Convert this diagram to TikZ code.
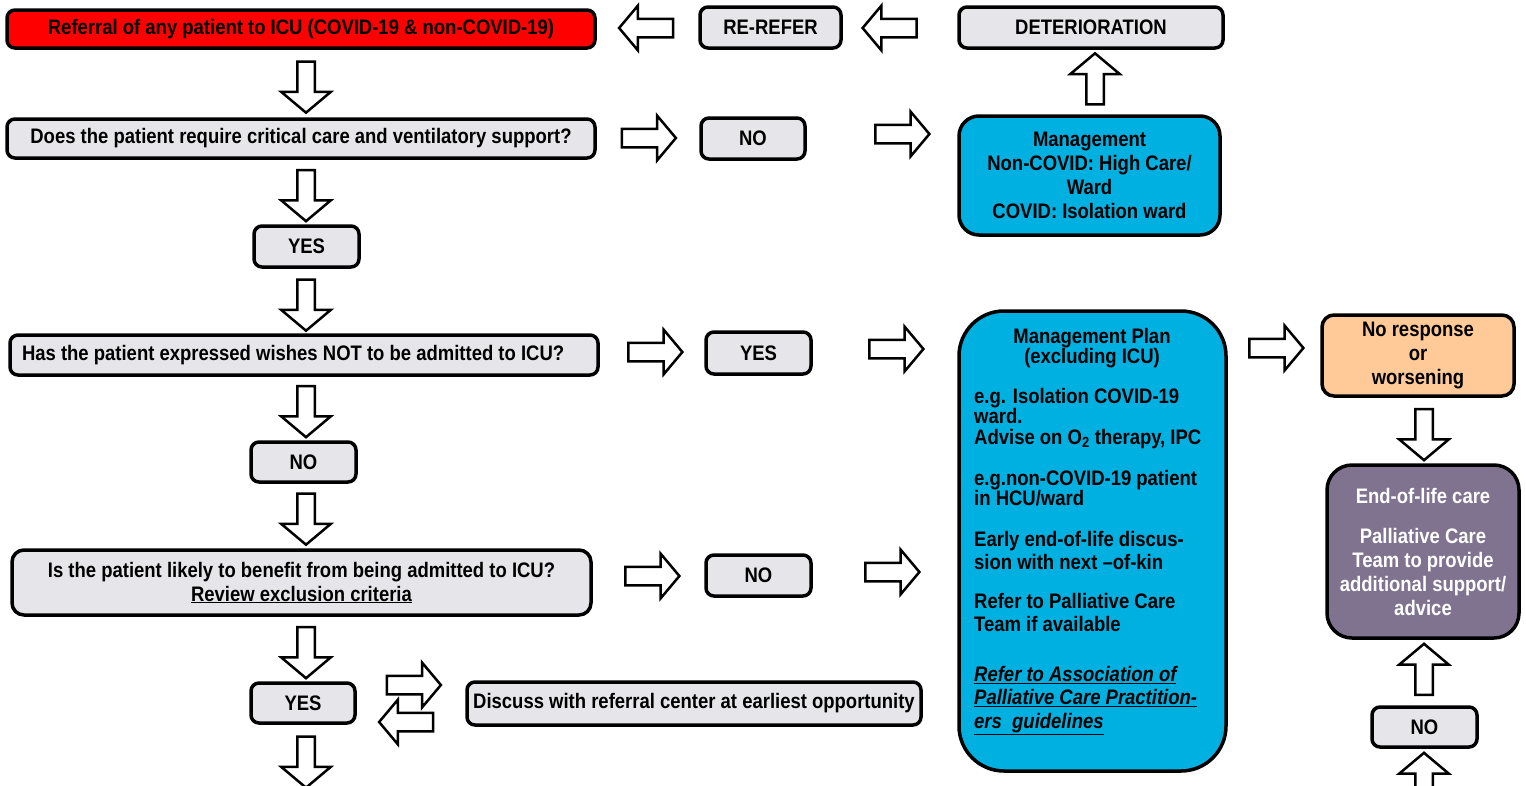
\documentclass[tikz,border=0pt]{standalone}
\usepackage{fontspec}
\setmainfont{Liberation Sans}[FakeStretch=0.88]
\usetikzlibrary{shapes.arrows}

\definecolor{boxgray}{HTML}{E6E5EA}
\definecolor{alertred}{HTML}{FF0000}
\definecolor{mgmtblue}{HTML}{00B0E0}
\definecolor{peach}{HTML}{FFCA97}
\definecolor{mauve}{HTML}{7F7390}

\tikzset{
  box/.style={draw, line width=3.5pt, rounded corners=8pt, fill=boxgray,
    inner sep=0pt, align=center, font=\bfseries\fontsize{21}{24}\selectfont},
  hflow/.style={single arrow, draw, fill=white, line width=2.5pt, inner sep=0pt,
    inner ysep=8pt, minimum height=54pt, single arrow head extend=13pt,
    single arrow tip angle=100},
  vflow/.style={single arrow, draw, fill=white, line width=2.5pt, inner sep=0pt,
    inner ysep=7.5pt, minimum height=51pt, single arrow head extend=16pt,
    single arrow tip angle=100},
}

\begin{document}
\begin{tikzpicture}[x=1pt, y=-1pt]
  \useasboundingbox (0,0) rectangle (1526,785);

  % Left column: questions and answers
  \node[box, fill=alertred, minimum width=588, minimum height=38] (referral) at (301,29)
    {Referral of any patient to ICU (COVID-19 \& non-COVID-19)};
  \node[box, minimum width=588, minimum height=39] (critical) at (301,138.5)
    {Does the patient require critical care and ventilatory support?};
  \node[box, minimum width=105, minimum height=41] (yesA) at (306.5,246.5) {YES};
  \node[box, minimum width=588, minimum height=40] (wishes) at (304,355)
    {\makebox[564pt][l]{Has the patient expressed wishes NOT to be admitted to ICU?}};
  \node[box, minimum width=105, minimum height=40] (noA) at (303.5,462) {NO};
  \node[box, rounded corners=12pt, minimum width=579, minimum height=65] (benefit) at (301.5,582.5)
    {Is the patient likely to benefit from being admitted to ICU?\\\underline{Review exclusion criteria}};
  \node[box, minimum width=104, minimum height=40] (yesB) at (303,703) {YES};
  \node[box, minimum width=454, minimum height=43] (discuss) at (694,703.5)
    {Discuss with referral center at earliest opportunity};

  % Middle column
  \node[box, minimum width=141, minimum height=41] (rerefer) at (770.5,27.5) {RE-REFER};
  \node[box, minimum width=104, minimum height=41] (noB) at (753,138.5) {NO};
  \node[box, minimum width=105, minimum height=42] (yesC) at (758.5,353) {YES};
  \node[box, minimum width=105, minimum height=41] (noC) at (758.5,575.5) {NO};

  % Management
  \node[box, minimum width=264, minimum height=41] (deterioration) at (1091,27.5) {DETERIORATION};
  \node[box, fill=mgmtblue, rounded corners=20pt, minimum width=261, minimum height=119] (management) at (1089.5,175.5)
    {Management\\Non-COVID: High Care/\\Ward\\COVID: Isolation ward};
  \node[box, fill=mgmtblue, rounded corners=45pt, minimum width=267, minimum height=460] (plan) at (1092.5,541) {};
  \node[font=\bfseries\fontsize{21}{20.5}\selectfont, align=center, inner sep=0pt, anchor=north] (plantitle) at (1092,328)
    {Management Plan\\(excluding ICU)};
  \node[font=\bfseries\fontsize{21}{20.5}\selectfont, align=left, inner sep=0pt, anchor=north west] (plantext) at (974,388)
    {e.g. Isolation COVID-19\\ward.\\Advise on O\textsubscript{2} therapy, IPC\\[20.5pt]
     e.g.non-COVID-19 patient\\in HCU/ward\\[20.5pt]
     Early end-of-life discus-\\[2.5pt]sion with next \textendash{}of-kin\\[18pt]
     Refer to Palliative Care\\[2.5pt]Team if available\\[29.5pt]
     \textit{\underline{Refer to Association of}}\\[2.5pt]
     \textit{\underline{Palliative Care Practition-}}\\[3.5pt]
     \textit{\underline{ers\ \ guidelines}}};

  % Right column
  \node[box, fill=peach, rounded corners=12pt, minimum width=192, minimum height=81] (noresponse) at (1418,355.5)
    {No response\\or\\worsening};
  \node[box, fill=mauve, text=white, rounded corners=25pt, minimum width=192, minimum height=173] (endoflife) at (1423,551.5)
    {End-of-life care\\[16pt]Palliative Care\\Team to provide\\additional support/\\advice};
  \node[box, minimum width=105, minimum height=40] (noD) at (1424.5,727) {NO};

  % Block arrows down the left column
  \foreach \name/\y in {a1/83.5, a2/192, a3/301.5, a4/408, a5/515.5, a6/649, a7/758.5}
    \node[vflow, rotate=-90] (\name) at (306,\y) {};

  % Block arrows to the right
  \foreach \name/\x/\y in {r1/645/138, r2/898.5/134, r3/651.5/352, r4/892.5/349,
      r5/1272.5/348, r6/648.5/576, r7/888.5/572, r8/410/685}
    \node[hflow] (\name) at (\x,\y) {};

  % Block arrows to the left
  \foreach \name/\x/\y in {l1/410/722, l2/650/28, l3/893.5/28}
    \node[hflow, rotate=180] (\name) at (\x,\y) {};

  % Up and down arrows on the right
  \node[vflow, rotate=90] (u1) at (1095,82.5) {};
  \node[vflow, rotate=-90] (d1) at (1424,431) {};
  \node[vflow, rotate=90] (u2) at (1424,673) {};
  \node[vflow, rotate=90] (u3) at (1424,782) {};
\end{tikzpicture}
\end{document}
